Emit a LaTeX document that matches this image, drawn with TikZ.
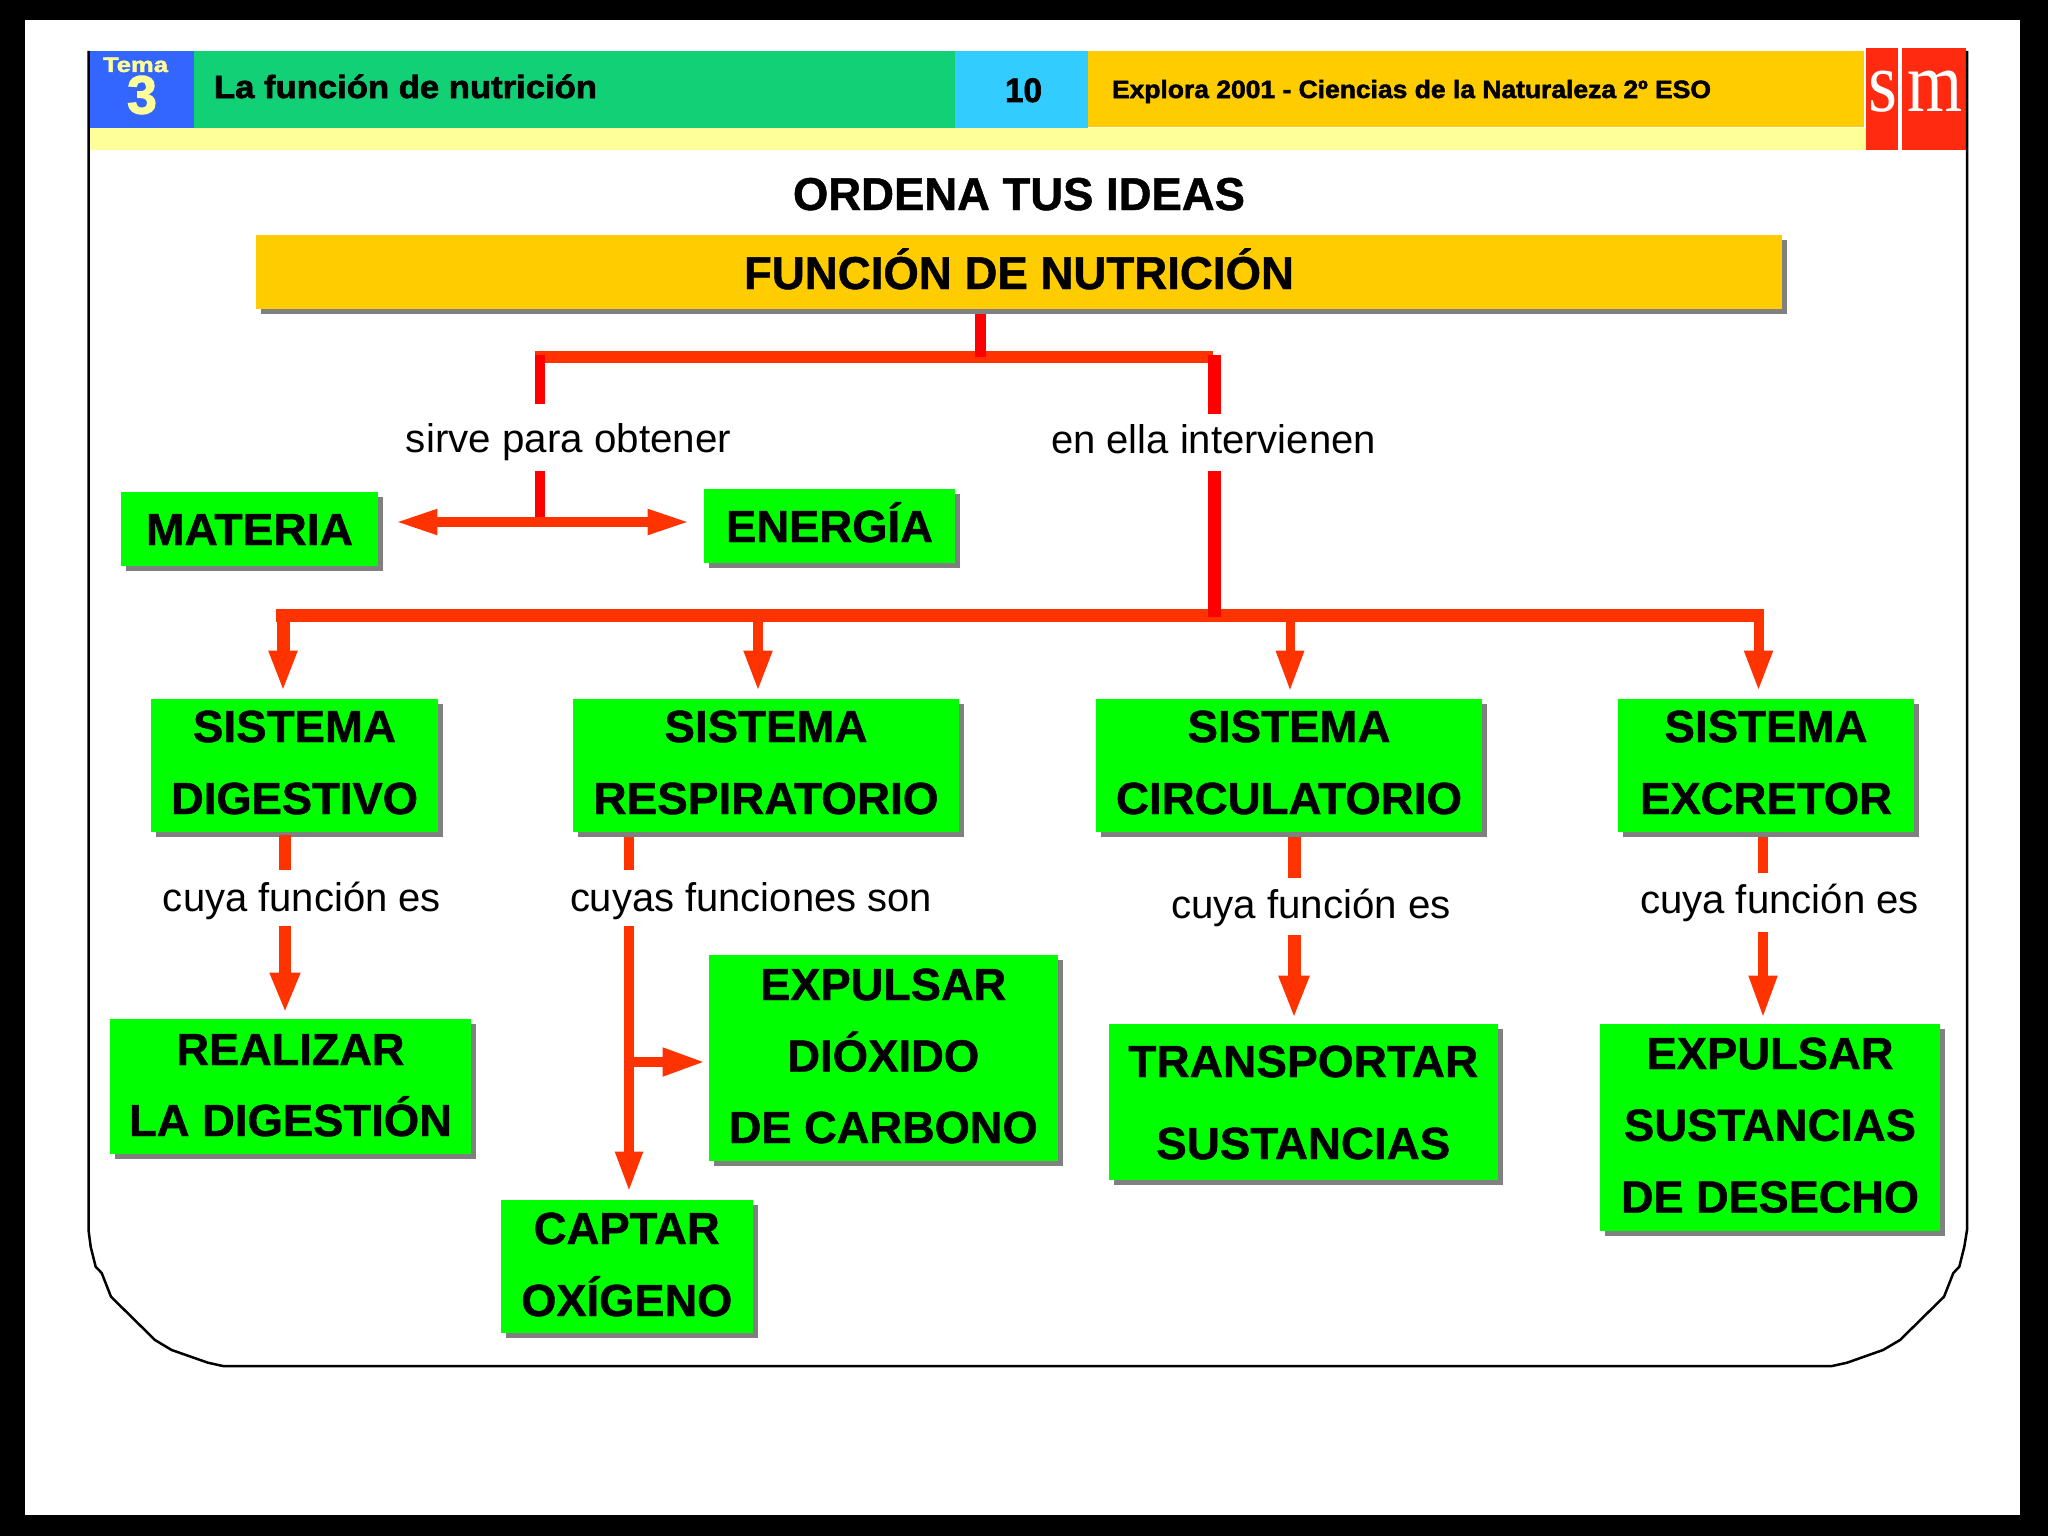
\documentclass[tikz,border=0pt]{standalone}
\usepackage{fontspec}
\usepackage{graphicx}
\setmainfont[BoldFeatures={FakeBold=1}]{Liberation Sans}
\newfontfamily\hdrfont[BoldFeatures={FakeBold=2}]{Liberation Sans}
\newfontfamily\smfont{Liberation Serif}
\usetikzlibrary{arrows.meta,shadows,calc}
\newdimen\px \px=0.5pt
\newcommand\tw[2]{\smash{\resizebox{#1\px}{\height}{#2}}}
\newcommand\bxn[9]{%
 \pgfmathsetmacro\bxw{#5-#3}\pgfmathsetmacro\bxh{#6-#4}%
 \pgfmathsetmacro\bxx{(#3+#5)/2}\pgfmathsetmacro\bxy{(#4+#6)/2}%
 \pgfmathsetmacro\bxd{(36+#4+#6-#7-#8)/2}%
 \node[#1,inner sep=0pt,align=center,minimum width=\bxw\px,minimum height=\bxh\px] (#2) at (\bxx,\bxy)
 {\rule{0pt}{18pt}#9\rule[-\bxd pt]{0pt}{\bxd pt}};}
\definecolor{boxgreen}{HTML}{00FF00}
\definecolor{shadowgray}{HTML}{808080}
\definecolor{barorange}{HTML}{FFCC00}
\definecolor{linkred}{HTML}{FF3300}
\definecolor{purered}{HTML}{FF0000}
\definecolor{hblue}{HTML}{3366FF}
\definecolor{hgreen}{HTML}{12D076}
\definecolor{hcyan}{HTML}{33CCFF}
\definecolor{hyellow}{HTML}{FFFF99}
\definecolor{smred}{HTML}{FF2A10}
\tikzset{
 x=0.5pt,y=-0.5pt,
 shad/.style={drop shadow={shadow xshift=2.5pt,shadow yshift=-2.5pt,opacity=1,fill=shadowgray}},
 greenbox/.style={fill=boxgreen,shad,font=\fontsize{22.5}{#1}\selectfont\bfseries},
 orangebox/.style={fill=barorange,shad,font=\fontsize{23}{36}\selectfont\bfseries},
 titletext/.style={font=\fontsize{23}{36}\selectfont\bfseries},
 linktext/.style={font=\fontsize{20}{36}\selectfont},
 hdrtext/.style={font=\fontsize{#1}{36}\selectfont\hdrfont\bfseries},
 stem/.style={draw=purered,line width=#1},
 link/.style={draw=linkred,line width=#1},
 arr/.style n args={4}{draw=linkred,line width=#1,-{Triangle[length=#2,width=#3]},shorten >=#4},
}
\begin{document}
\begin{tikzpicture}
\useasboundingbox (0,0) rectangle (2048,1536);
% page
\fill[black] (0,0) rectangle (2048,1536);
\fill[white] (25,20) rectangle (2020,1515);
% header
\fill[hyellow] (89,128) rectangle (1866,150);
\fill[hblue] (87.5,51) rectangle (194,128);
\fill[hgreen] (194,51) rectangle (955,128);
\fill[hcyan] (955,51) rectangle (1088,128);
\fill[barorange] (1088,51) rectangle (1864,127);
\fill[smred] (1866,48) rectangle (1898,150);
\fill[smred] (1902,48) rectangle (1966,150);
\draw[black,line width=1.25pt,line join=round]
 (88.5,51) -- (88.5,1230) -- (90.7,1246.7) -- (95.7,1266.7) -- (101.7,1273) -- (111,1296.7) -- (155,1340) -- (171.7,1350) -- (208,1362.7) -- (223,1366)
 -- (1832,1366) -- (1847,1362.7) -- (1883,1350) -- (1900,1340) -- (1944,1296.7) -- (1953.3,1273) -- (1959.3,1266.7) -- (1964.3,1246.7) -- (1967,1230) -- (1967,51);
\bxn{hdrtext=10.5,text=hyellow}{tema}{103}{57}{168}{72}{72}{72}{\tw{65}{Tema}}
\bxn{hdrtext=27,text=hyellow}{tres}{127}{76}{157}{115}{115}{115}{\tw{30}{3}}
\bxn{hdrtext=16}{htitle}{214}{75}{597}{98}{98}{98}{\tw{383}{La función de nutrición}}
\bxn{hdrtext=17}{hnum}{1005}{77}{1042}{102}{102}{102}{\tw{37}{10}}
\bxn{hdrtext=12.5}{hbook}{1112}{80}{1711}{98}{98}{98}{\tw{599}{Explora 2001 - Ciencias de la Naturaleza 2º ESO}}
\node[font=\fontsize{43}{50}\selectfont\smfont,text=white,inner sep=0pt,anchor=base] (smS) at (1882.5,112) {\resizebox{29\px}{\height}{s}};
\node[font=\fontsize{43}{50}\selectfont\smfont,text=white,inner sep=0pt,anchor=base] (smM) at (1934.5,112) {\resizebox{55\px}{\height}{m}};
% title and main bar
\bxn{titletext}{title}{793}{177}{1245}{210}{210}{210}{\tw{452}{ORDENA TUS IDEAS}}
\bxn{orangebox}{bar}{256}{235}{1782}{309}{289}{289}{\tw{550}{FUNCIÓN DE NUTRICIÓN}}
% green boxes
\bxn{greenbox=36}{materia}{121}{492}{378}{566}{545}{545}{\tw{207}{MATERIA}}
\bxn{greenbox=36}{energia}{704}{489}{955}{563}{542}{542}{\tw{207}{ENERGÍA}}
\bxn{greenbox=36}{dig}{151}{699}{438}{832}{742}{814}{\tw{203}{SISTEMA}\\\tw{247}{DIGESTIVO}}
\bxn{greenbox=36}{resp}{573}{699}{959}{832}{742}{814}{\tw{203}{SISTEMA}\\\tw{345}{RESPIRATORIO}}
\bxn{greenbox=36}{circ}{1096}{699}{1482}{832}{742}{814}{\tw{203}{SISTEMA}\\\tw{346}{CIRCULATORIO}}
\bxn{greenbox=36}{excr}{1618}{699}{1914}{832}{742}{814}{\tw{203}{SISTEMA}\\\tw{252}{EXCRETOR}}
\bxn{greenbox=35.5}{realizar}{110}{1019}{471}{1154}{1065}{1136}{\tw{228}{REALIZAR}\\\tw{323}{LA DIGESTIÓN}}
\bxn{greenbox=35.75}{expco}{709}{954.5}{1057.5}{1161}{1000}{1143}{\tw{246}{EXPULSAR}\\\tw{192}{DIÓXIDO}\\\tw{309}{DE CARBONO}}
\bxn{greenbox=36}{captar}{501}{1200}{752.5}{1333}{1244}{1316}{\tw{186}{CAPTAR}\\\tw{211}{OXÍGENO}}
\bxn{greenbox=41}{transp}{1109}{1024}{1497.5}{1180}{1077}{1159}{\tw{350}{TRANSPORTAR}\\\tw{294}{SUSTANCIAS}}
\bxn{greenbox=35.875}{expde}{1600}{1024}{1940}{1231}{1069}{1212.5}{\tw{247}{EXPULSAR}\\\tw{292}{SUSTANCIAS}\\\tw{298}{DE DESECHO}}
% link labels (each spans the gap left in its connector)
\bxn{linktext}{lsirve}{406}{404}{731}{471}{452}{452}{\tw{325}{sirve para obtener}}
\bxn{linktext}{lella}{1051}{414}{1376}{471}{453}{453}{\tw{325}{en ella intervienen}}
\bxn{linktext}{ldig}{163}{870}{441}{926}{911}{911}{\tw{278}{cuya función es}}
\bxn{linktext}{lresp}{570}{870}{932}{926}{911}{911}{\tw{362}{cuyas funciones son}}
\bxn{linktext}{lcirc}{1171}{878}{1451}{934.5}{918.5}{918.5}{\tw{280}{cuya función es}}
\bxn{linktext}{lexcr}{1640}{873}{1919}{931.5}{913}{913}{\tw{279}{cuya función es}}
% junctions
\coordinate (top) at (980.5,357);
\coordinate (busL) at (535,357);
\coordinate (busR) at (1213,357);
\coordinate (dropL) at (540,355);
\coordinate (dropR) at (1214.5,355);
\coordinate (fork) at (540,522);
\coordinate (mid) at (1214.5,617);
\coordinate (lowL) at (276,615.5);
\coordinate (lowR) at (1764,615.5);
\coordinate (d1) at (283,615);
\coordinate (d2) at (758,615);
\coordinate (d3) at (1290,615);
\coordinate (d4) at (1758.5,615);
\coordinate (xd) at (285,0);
\coordinate (xr) at (629,0);
\coordinate (xc) at (1294,0);
\coordinate (xe) at (1763,0);
\coordinate (br) at (629,1062);
% upper tree
\draw[link=6pt] (busL) -- (busR);
\draw[stem=5.5pt,shorten <=2.5pt] (bar.south -| top) -- (top);
\draw[stem=5pt] (dropL) -- (lsirve.north -| dropL);
\draw[stem=6.5pt] (dropR) -- (lella.north -| dropR);
\draw[stem=5pt] (lsirve.south -| dropL) -- (fork);
\draw[draw=linkred,line width=5pt,{Triangle[length=21.5pt,width=11.5pt]}-{Triangle[length=21.5pt,width=11.5pt]},shorten <=8pt,shorten >=6.5pt] (materia.east |- fork) -- (energia.west |- fork);
% lower bus
\draw[link=6.5pt] (lowL) -- (lowR);
\draw[stem=6.5pt] (lella.south -| dropR) -- (mid);
\draw[arr={6.5pt}{20.5pt}{13pt}{3.5pt}] (d1) -- (dig.north -| d1);
\draw[arr={5pt}{20.5pt}{13pt}{3.5pt}] (d2) -- (resp.north -| d2);
\draw[arr={4.5pt}{20.5pt}{13pt}{3.5pt}] (d3) -- (circ.north -| d3);
\draw[arr={5pt}{20.5pt}{13pt}{3.5pt}] (d4) -- (excr.north -| d4);
% system branches
\draw[link=6pt,shorten <=1.5pt] (dig.south -| xd) -- (ldig.north -| xd);
\draw[arr={6pt}{20pt}{14pt}{3pt}] (ldig.south -| xd) -- (realizar.north -| xd);
\draw[link=5pt,shorten <=2.5pt] (resp.south -| xr) -- (lresp.north -| xr);
\draw[arr={5pt}{20.5pt}{12.5pt}{3.5pt}] (lresp.south -| xr) -- (captar.north -| xr);
\draw[arr={5pt}{21.5pt}{13pt}{1.5pt}] (br) -- (expco.west |- br);
\draw[link=6.5pt,shorten <=2.5pt] (circ.south -| xc) -- (lcirc.north -| xc);
\draw[arr={6.5pt}{21.5pt}{14pt}{2.5pt}] (lcirc.south -| xc) -- (transp.north -| xc);
\draw[link=5pt,shorten <=2.5pt] (excr.south -| xe) -- (lexcr.north -| xe);
\draw[arr={5pt}{21.5pt}{13pt}{2.5pt}] (lexcr.south -| xe) -- (expde.north -| xe);
\end{tikzpicture}
\end{document}
